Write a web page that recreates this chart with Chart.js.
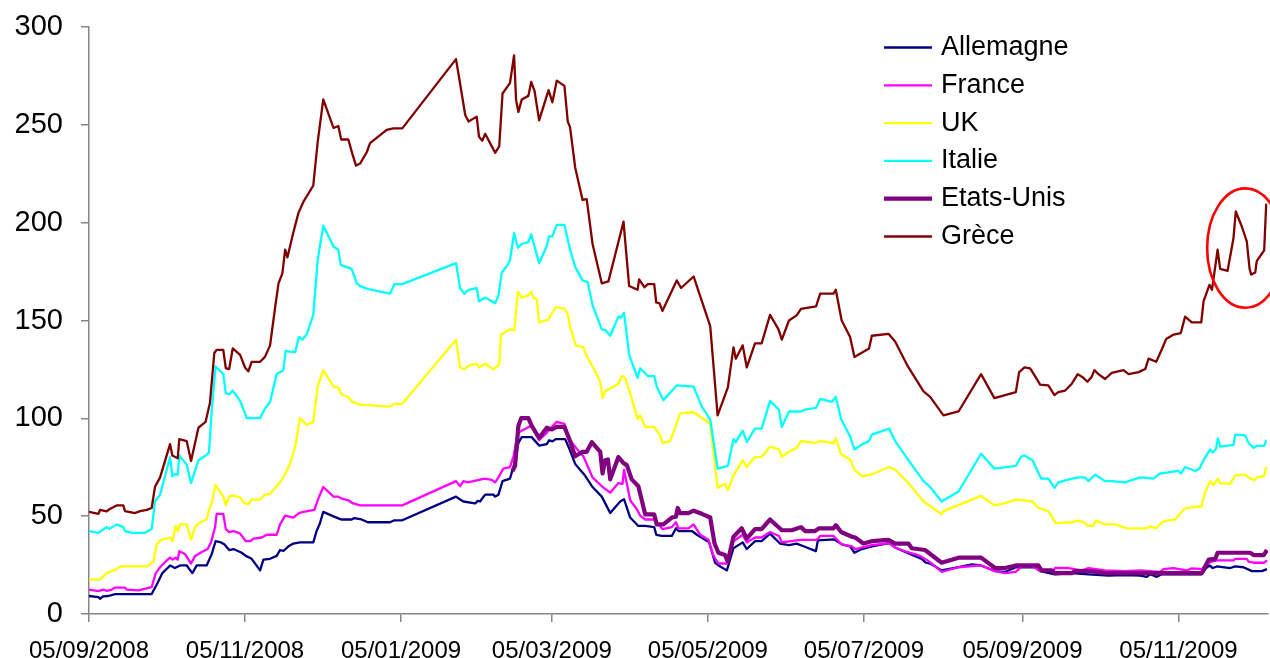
<!DOCTYPE html>
<html>
<head>
<meta charset="utf-8">
<script src="https://cdn.jsdelivr.net/npm/chart.js@4.4.1/dist/chart.umd.min.js"></script>
<style>
  html, body { margin: 0; padding: 0; background: #ffffff; }
  canvas { display: block; }
</style>
</head>
<body>
<canvas id="c" width="1270" height="658"></canvas>
<script>
// ---- Data (x = days since 05/09/2008) ----
const tickDays   = [0, 61, 122, 181, 242, 303, 365, 426];
const tickLabels = ['05/09/2008','05/11/2008','05/01/2009','05/03/2009','05/05/2009','05/07/2009','05/09/2009','05/11/2009'];

const allemagneDays = [0,3.7,4.3,5.5,7.6,10.2,24.5,26.5,28.7,31.7,33.6,35.6,38.2,40.4,42.1,46,48,49.5,51.6,52.9,54.8,56.5,59.7,61.3,63.6,66.9,68.2,70.8,73.4,74.7,76,78,79.9,82.5,87.7,89,90.3,91.6,94.9,97.5,98.6,102.7,103.7,106.6,109,117.7,119.4,122.5,143.5,145.1,146.4,151,152,152.9,154.9,158.1,158.8,160.1,161.7,164.6,166.3,167.9,169.2,173.1,176,179,179.9,181.2,182.5,186.2,188.1,190.1,193.7,196.9,200.5,203.8,207.7,209.2,211.6,214.8,217.5,221,221.8,224,227.9,229.5,230.5,235.7,237.7,242.5,244.8,246.8,249.4,252,255.6,257.2,260.4,263,266.3,270.2,273.7,276.7,279.4,284.2,285,291.5,294.3,297.6,299.3,302.2,306.1,312.9,315.2,319.8,325.6,327.2,328.9,333.4,340,345.2,348.8,354.3,358.2,362.4,369.9,371.9,377.7,384.3,390.8,398.6,405.1,411,413.6,414.9,417.5,419.5,435.1,436.8,438.1,439.4,441,446.2,448.2,451.4,454.7,458.6,460.6];
const allemagneValues = [9.2,8.6,7.8,9,9.2,10.2,10.2,15.1,20.9,24.8,23.5,24.8,24.8,20.9,24.8,24.8,30.7,37.2,36.6,35.6,32.7,33.2,31.3,29.7,28.2,22.3,27.8,28.2,29.7,32.7,32.2,34.6,36,36.6,36.6,42.4,46.4,52.2,50.3,48.9,48.3,48.3,49,48.3,46.9,46.9,47.9,47.9,60,58.5,57.5,56.5,57.8,57.5,61,61,60,61,67.9,69.2,76.7,87.4,90.4,90.4,86.1,86.8,88.8,88.2,89.4,89.4,83.5,76.7,71.2,64.9,60,51.6,57.5,58.7,49.3,45,45,44.4,40.5,39.9,39.9,43.8,42.4,42.4,40.5,36.6,26.2,24.3,22.3,33.6,36.6,33.2,37.2,37.2,41.1,36,35.2,36,34.6,32.1,37.6,38.1,35.6,34.6,31.3,33.2,34.6,36.2,34,31.3,28.2,26.2,25.8,22.3,23.9,25.4,24.8,21.9,21.5,23.9,23.9,21.9,20.3,20.9,20.3,19.6,19.9,19.6,19,20.3,19,20.3,20.3,23.5,24.8,23.5,24.3,23.5,24.3,23.9,21.9,21.9,22.9];

const franceDays = [0,3.7,5.6,7,8.9,10.2,14.1,14.7,19.3,24.5,26.1,27.8,30.4,31.7,32.6,33.9,34.7,35.3,37.5,39.9,41.5,44.1,46.4,47.7,49.3,49.9,52.5,53.5,54.8,56.5,59.1,61.3,63,64.3,67.5,69.5,73.4,74.7,76.7,79.9,82.1,83.8,88.1,89.7,91.6,95.6,97.5,98.6,101.4,103,106,122.5,143.5,145.1,146.4,148.1,151.6,154.6,157.5,158.8,160.1,162,164.6,166,167.7,169.2,172.9,176,179,181,182.9,185.9,188.1,190.7,193.3,196.9,200.8,203.8,207,208.6,209.2,211.6,214.2,215.5,217.5,221,222.7,224.2,227.9,229.5,230.5,234.4,236.4,239,242.2,244.2,246.1,249.4,252,255.6,257.2,260.4,263,266.3,269.8,270.9,276.7,278.4,284.6,285.9,291.1,294.3,298.3,299.6,306.1,312.9,315.2,319.8,325,328.9,333.4,340,348.8,354.3,358.2,362.4,364.7,369,371.9,377.1,377.7,383,388.2,390.8,397.3,405.1,411,418.8,420.1,424,429.3,431.2,435.1,436.8,439.1,441,447.5,448.2,452.7,453.4,455.4,459.5,460.6];
const franceValues = [12.5,11.7,12.5,11.8,12.5,13.5,13.5,12.5,12.1,13.7,20.9,23.9,27.4,28.8,27.8,28.8,27.8,32.1,30.7,25.8,29.7,31.7,33.2,36.6,44.4,51.2,51.2,43.4,41.9,42.4,41.1,37.2,37.2,38.5,39.1,40.5,40.5,45.8,50.3,49.3,51.6,52.2,53.2,59.1,64.9,60,60,59.1,58.1,56.7,55.5,55.5,67.9,65.3,67.9,67.3,68.3,69.2,68.5,67.3,69.8,74.3,75.1,80.6,92.7,93.7,96.2,88.8,92.7,95.6,98.2,97.2,88.8,84.5,80.6,69.8,64.9,62,66.9,66.5,73.7,58.1,53.6,50.3,48.3,48.3,45.8,43.4,44.4,46.9,43.8,43.8,45.8,40.5,37.9,29.7,25.8,25.8,37.2,40.5,36.6,39.1,39.1,41.9,39.9,36.6,37.6,37.9,37.9,39.9,39.9,35.6,34.6,33.2,35.2,36.2,34,31.7,29.7,26.5,21.5,23.9,24.8,21.9,20.9,21.5,24.3,24.3,21.9,22.3,23.5,23.5,22.3,23.5,22.3,21.9,22.3,21.5,22.9,23.5,22.3,23.3,22.9,25.4,26.8,27.4,27.4,28.2,28.2,26.8,26.2,26.2,27.4];

const ukDays = [0,4.3,6.9,10.8,12.1,22.6,25.2,26.5,28.2,31.7,32.6,33.9,34.7,35.6,38.2,39.9,41.5,43.4,46,46.9,48,49.5,51.2,52.5,53.5,54.8,56.5,59.1,60.8,62.3,63.6,66.9,68.8,70.8,74.1,76,78.6,80.6,82.5,85.1,87.7,89.4,91.6,95.6,97.5,98.6,101.4,103,106,117.7,119.4,122.5,143.5,145.1,146.8,148.4,151.6,152.5,154.9,158.1,160.4,161.1,164.7,166.3,167.7,169.2,171.6,172.9,173.8,175.1,176,179.6,182.5,185.9,187.2,188.1,190.3,193.3,194.4,196.9,199.9,200.8,201.8,207,208.3,209.6,211.6,214.5,215.5,217.5,221,223.3,224.2,227.2,229.2,231.1,236.4,242.9,245.8,248.7,249.8,252,255.6,257.2,260.4,263,266.3,269.8,270.9,273.7,276.7,278.4,283.9,285.9,291.1,292,294.1,297.6,299.3,302.4,306.1,312.9,315.2,320.4,326.3,328.9,333.4,334.1,348.8,354,358.2,362.4,368.9,371.2,375.1,378,384.3,386.9,389,390.5,392.7,393.6,397.3,401.2,405.8,413.6,414.9,417.3,419.5,421.5,424.7,426.7,428.6,432.5,434.9,436.4,438.4,439.7,441.3,442.3,446.2,448.2,452.1,453.4,455.6,456.6,459.5,460.3];
const ukValues = [17.6,17.6,20.9,22.9,24.3,24.3,26.8,35.6,37.9,39.1,37.2,45,42.4,45.8,45.8,38.1,44.4,46.9,48.3,53.2,56.7,65.9,62.6,60,55.5,60,60.6,59.5,56.7,56.1,58.5,58.5,61,61.4,66.3,69.8,76.7,85.5,100.1,96.6,98.2,116.2,124.6,116.2,115.8,112.3,110.9,108.4,107,106,107.4,107.4,140.2,126,125,126.9,127.9,126,127.9,125,127.5,142.8,145.5,145.1,164.7,161.7,162.7,164.7,161.7,160.8,149,150.4,156.9,155.9,153.3,147.1,137.3,136.3,132.4,126.5,118.7,110.3,113.8,117.7,121.6,120.7,112.8,99.7,101.5,95.6,95.6,91.3,87.4,88.4,95.2,102.5,103.1,97.2,64.5,66.5,63.4,70.8,78.6,75.1,80.2,80.2,85.5,84.1,80.2,82.9,84.9,88.4,87.4,88.4,87.4,89.8,81.6,79,73.7,70.4,71.4,75.1,73.7,66.9,57.5,55.2,50.9,52.6,60.4,55.5,56.7,58.5,57.5,54.2,52.6,46.4,46.9,47.7,47,45,45,47.7,45.8,45.8,43.8,43.8,44.8,43.8,46.9,47.7,48.3,51.2,54,54.8,54.8,62,67.9,65.9,69.2,66.9,66.5,70.8,71.2,69.8,68.3,69.8,70.4,75.1];

const italieDays = [0,3.7,6.9,8,10.8,13.4,14.1,16.7,21.9,24.5,25.8,27.8,31.7,32.6,33.6,34.7,35.3,38.2,39.9,42.8,45.6,46.9,48,49.5,52.5,53.5,54.8,56.2,59.1,61.7,66.9,68.8,70.8,73.4,76,76.9,80.6,82.1,83.4,85.1,87.7,89.4,91.6,95.6,97.5,98.4,102.7,104.7,106,109.2,117.7,119.4,122.5,143.5,145.1,146.8,148.4,151.6,152.5,154.9,158.8,160.1,161.4,163.5,164.6,166.2,167.7,169.2,171.8,172.9,176,179,179.9,181.2,182.9,185.9,188.1,190.1,193,195,196.9,200.5,201.8,203.8,207,208,209.2,211.2,214.5,215.5,218.5,221,222,224.6,229.8,236.4,239.6,242.9,245.8,249.8,252,252.9,255.6,257.2,260.4,263,266.3,269.8,270.9,273.7,278.4,280,284.3,285.9,290.4,292,294.1,297.6,299.3,302.4,305,306.1,312.9,315.2,320.4,326.3,328.9,333.4,340,348.8,354,362.4,364.5,365.8,368.9,372.3,375.1,377.5,379,384.3,386.9,389.5,390.8,393.4,397.3,399.9,405.1,411,416.2,418.8,421.5,426,426.9,428.6,432.5,434.2,435.8,438.4,439.4,440.7,441.4,442.3,447.5,448.2,452.1,453.4,455.4,456.6,459.5,460.3];
const italieValues = [42.4,41.5,44.4,43.5,45.8,44.4,42.4,41.5,41.5,43.4,57.5,61,80.2,70.4,71.5,71.2,81,76.3,66.9,78.6,81,82.5,104,126.5,122.6,112.8,112.3,114.2,108.9,100.1,100.1,105,108.4,122.6,124.6,134.4,133.8,141.6,140.2,142.8,152.9,180.7,198.5,187.8,186.2,178.4,176.4,169,167.6,166,163.7,168.6,168.6,179.3,166.6,163.7,165.7,166.6,159.8,161.7,158.8,162.7,174.5,178,180.7,194.6,187.2,189.1,190.1,194,179.3,188.1,193,193,198.9,198.9,186.2,177.4,170.5,169.6,157.8,145.5,145.2,142.2,152,151.5,153.9,132.4,120.7,125.6,121.6,121.6,116.2,109.3,116.8,116.2,106,99.5,74.3,75.7,89.4,87.8,93.7,88,94.7,94.7,108.9,104.4,95.6,103.5,103.5,104.5,105.4,109.9,108.4,110.9,99.5,90.7,84.1,86.8,88.4,91.7,94.7,88.4,78.6,67.9,64.9,57.5,62.6,81.9,74.3,75.7,80.6,81,78.6,69.2,69.2,64.5,67.3,69.2,69.8,69.8,67.9,71.2,67.9,67.9,67.3,69.8,69.2,71.8,72.2,73.1,71.8,75.1,73.1,74.3,78.6,84.1,82.5,84.5,89.8,85.5,86.4,91.7,91.3,87.4,84.9,85.9,85.9,88.8];

const etatsUnisDays = [165.6,166.6,167.9,169,171.8,173.1,176,179,181,182.9,185.9,188.1,190.1,193,194.6,196.6,199.9,200.8,201.8,202.9,203.8,207,209,210.3,212.2,214.8,216.4,217.5,221,222,224.6,227.9,229.5,230.2,231.1,234.4,236.4,239.6,242.9,244.6,246.1,248.7,249.8,252,255.2,257.2,260.4,263,266.3,270.9,274.8,278.4,280,283.9,285.5,291.1,292,294.1,298.3,299.6,302.8,306.1,312.6,315.2,320.4,321.7,326.9,333.4,340,348.8,354.3,358.2,362.4,371.2,372.5,376.4,377.7,384.3,385.6,391.4,397.3,435.1,437.8,440.4,441.3,454,455.4,459.3,460.6];
const etatsUnisValues = [73.1,75.7,96.2,100.1,100.1,96.2,90,95.2,94.3,95.6,95.6,88.4,80.6,82.9,82.9,87.8,82.9,71.8,78.6,79,68.8,80.2,77.1,76.1,68.8,65.3,56.7,50.9,50.9,45.8,45.8,49.3,49.7,54.2,51.6,51.6,52.8,51.2,49.3,36,31.3,30.1,26.8,39.5,43.8,38.5,43.4,43.4,48.3,42.8,42.8,44.4,42.4,42.4,43.8,43.8,45.4,41.9,39.5,39.1,36,37.2,37.9,36,36,33.6,32.7,26.2,28.8,28.8,23.5,23.5,24.8,24.8,22.3,22.3,20.9,20.9,21.9,21.9,20.9,20.9,27.8,28.2,31.3,31.3,30.1,30.1,32.7];

const greceDays = [0,3.7,4.3,6.9,8,10.8,13.4,14.1,18,20,22.6,24.5,25.8,27.8,31.7,32.6,34.7,35.3,38.2,39.9,42.8,45.6,47.3,49,49.9,52.5,53.5,54.8,56.2,59.1,61,62.3,63.6,66.9,68.8,70.8,72.8,74.1,75.6,76.7,77.6,79.9,81.9,83.8,87.7,89.4,91.6,95.6,97.5,98.6,101.4,103,104.4,106,108.6,109.9,116.4,119,122.5,143.5,145.4,147.1,148.4,151.6,152.5,153.8,154.9,157.5,158.8,160.4,161.7,164.6,166.2,167,167.9,169.2,171.8,172.9,174.2,176,179.7,181.2,182.9,185.9,187.2,188.1,190.1,193,194.6,196.9,200.5,203.1,209,211.2,214.5,215.1,217.2,218.5,221,221.8,223.1,224.2,229.8,231.5,236.4,242.9,245.8,249.8,252,252.9,255.6,257.2,260.4,263,266.3,269.6,270.9,273.7,276.7,278.4,284.3,285.9,291.1,292,294.3,297.6,299.3,305,306.1,312.6,315.2,320.2,326.3,328.9,334.1,340,348.8,354,362.4,363.7,365.8,368,369.9,371.9,375.1,377.5,379,381.7,384.3,386.6,388.8,390.4,392.1,393.1,394.7,397.3,399.9,404.5,406.5,410.4,413,414.3,417.3,419.5,421.2,424.1,426.9,428.6,431.2,434.9,435.8,438.1,439.1,441.3,442.3,445.2,447.5,448.4,450.8,452.7,453.8,454.4,456,456.6,459.5,460.3];
const greceValues = [52.2,51.2,53.2,52.5,53.5,55.5,55.5,52.6,51.6,52.6,53.2,54.2,65,69.8,86.8,81,79.6,89.4,88.4,78.2,95.2,98.2,108,133.4,135,135,125.6,125.2,135.7,132.4,126,124,128.9,128.9,131.4,137.3,156.9,169,174,186.2,182.3,195,205,210.6,219,241,263,248.4,249.4,242.5,242.5,235,229.2,230.2,236,240.6,247.4,248.2,248.2,283.6,268.7,255,251.7,254.2,243.9,241.9,245.4,239,235.7,239,266,271.3,285.5,262.5,256.6,262.9,264.8,271.9,267.4,252.3,267.7,261.5,272.6,269.9,251.7,248.8,228.2,211.6,212,189.1,169,170,200.5,167.6,165.7,171,167,168.6,168.6,159.2,158.8,154.9,170.5,166.6,172.5,147.1,101.5,115.8,136.3,130.5,137.3,126,138.3,138.3,152.9,145.5,140.2,150,152.6,155.9,157.2,163.7,163.7,165.7,150,141.6,131.4,135.7,142.2,143.2,139.3,126.5,113.8,111,101.5,103.5,122.6,110.3,113.4,123.6,126,125.5,121.6,117.2,116.8,111.9,113.4,114.2,117.7,122.6,120.7,118.7,121.3,124.6,122.6,120.1,123.2,124.6,122.6,123.6,125.2,130.5,128.9,135.3,140.6,142.8,143.6,152,149,149,159.8,168.2,165.7,186.2,176.4,175.4,192,205.7,197.9,190.5,176.4,173.5,174.5,180.3,185.8,209.7];

// Highlight ellipse around the end of the Greek series (data units)
const highlightCenter = [452.1, 187];
const highlightRadius = [14.9, 30.5];

// ---- Build chart ----
function pts(days, vals) { return days.map((d, i) => ({ x: d, y: vals[i] })); }

const FONT = 'Liberation Sans, Arial, sans-serif';
const AXIS = '#868686';

const datasets = [
  { label: 'Allemagne',  data: pts(allemagneDays, allemagneValues), borderColor: '#000080', borderWidth: 2.3, order: 6 },
  { label: 'France',     data: pts(franceDays, franceValues),       borderColor: '#FF00FF', borderWidth: 2.3, order: 5 },
  { label: 'UK',         data: pts(ukDays, ukValues),               borderColor: '#FFFF00', borderWidth: 2.3, order: 4 },
  { label: 'Italie',     data: pts(italieDays, italieValues),       borderColor: '#00FFFF', borderWidth: 2.3, order: 3 },
  { label: 'Etats-Unis', data: pts(etatsUnisDays, etatsUnisValues), borderColor: '#800080', borderWidth: 4.2, order: 2 },
  { label: 'Grèce',      data: pts(greceDays, greceValues),         borderColor: '#800000', borderWidth: 2.3, order: 1 }
].map(d => Object.assign(d, { pointRadius: 0, tension: 0, fill: false, borderJoinStyle: 'round' }));

const customLegend = {
  id: 'customLegend',
  afterDraw(chart, args, opts) {
    const ctx = chart.ctx;
    ctx.save();
    ctx.font = opts.fontSize + 'px ' + FONT;
    ctx.textBaseline = 'middle';
    ctx.textAlign = 'left';
    chart.data.datasets.forEach((ds, i) => {
      const y = opts.y + i * opts.rowHeight;
      ctx.beginPath();
      ctx.strokeStyle = ds.borderColor;
      ctx.lineWidth = ds.borderWidth;
      ctx.moveTo(opts.x, y);
      ctx.lineTo(opts.x + opts.lineLength, y);
      ctx.stroke();
      ctx.fillStyle = '#000';
      ctx.fillText(ds.label, opts.x + opts.lineLength + opts.gap, y);
    });
    ctx.restore();
  }
};

const highlight = {
  id: 'highlight',
  afterDatasetsDraw(chart) {
    const xs = chart.scales.x, ys = chart.scales.y;
    const cx = xs.getPixelForValue(highlightCenter[0]);
    const cy = ys.getPixelForValue(highlightCenter[1]);
    const rx = Math.abs(xs.getPixelForValue(highlightCenter[0] + highlightRadius[0]) - cx);
    const ry = Math.abs(ys.getPixelForValue(highlightCenter[1] + highlightRadius[1]) - cy);
    const ctx = chart.ctx;
    ctx.save();
    ctx.beginPath();
    ctx.ellipse(cx, cy, rx, ry, 0, 0, Math.PI * 2);
    ctx.strokeStyle = '#FF0000';
    ctx.lineWidth = 2.6;
    ctx.stroke();
    ctx.restore();
  }
};

new Chart(document.getElementById('c'), {
  type: 'line',
  data: { datasets },
  plugins: [customLegend, highlight],
  options: {
    responsive: false,
    animation: false,
    events: [],
    layout: { padding: { top: 27, right: 2, left: 0, bottom: 0 } },
    plugins: {
      legend: { display: false },
      tooltip: { enabled: false },
      customLegend: { x: 884, y: 47.5, rowHeight: 37.8, lineLength: 48, gap: 9, fontSize: 27 }
    },
    scales: {
      x: {
        type: 'linear',
        min: 0,
        max: 461,
        afterBuildTicks: s => { s.ticks = tickDays.map(v => ({ value: v })); },
        afterFit: s => { s.height = 44; s.paddingLeft = 0; s.paddingRight = 0; },
        ticks: {
          autoSkip: false, maxRotation: 0, minRotation: 0, padding: 15,
          color: '#000', font: { family: FONT, size: 24 },
          callback: (v, i) => tickLabels[i]
        },
        grid: { drawOnChartArea: false, drawTicks: true, tickLength: 8, color: AXIS, lineWidth: 1.5 },
        border: { color: AXIS, width: 1.5 }
      },
      y: {
        min: 0,
        max: 300,
        afterFit: s => { s.width = 89; s.paddingTop = 0; s.paddingBottom = 0; },
        ticks: { stepSize: 50, padding: 18, color: '#000', font: { family: FONT, size: 29 } },
        grid: { drawOnChartArea: false, drawTicks: true, tickLength: 8, color: AXIS, lineWidth: 1.5 },
        border: { color: AXIS, width: 1.5 }
      }
    }
  }
});
</script>
</body>
</html>
